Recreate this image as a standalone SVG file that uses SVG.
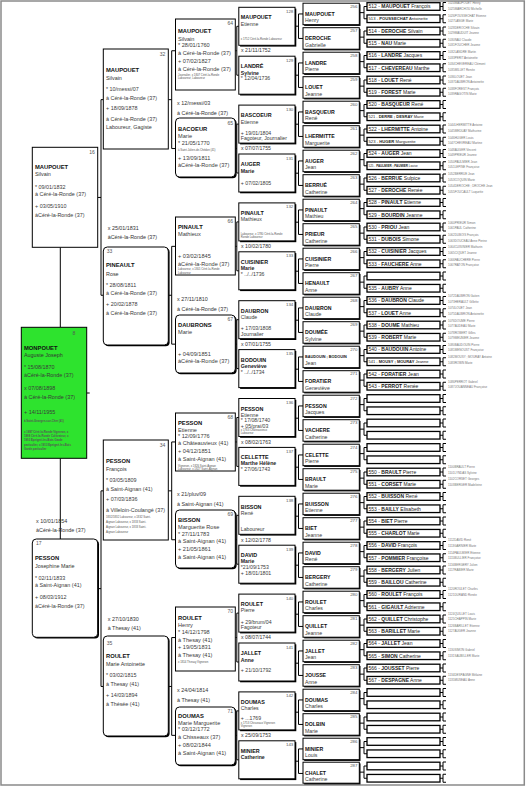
<svg xmlns="http://www.w3.org/2000/svg" width="526" height="786" viewBox="0 0 526 786">
<style>
text{font-family:"Liberation Sans",Arial,Helvetica,sans-serif;fill:#2a2a2a}
.bx{fill:#fff;stroke:#000;stroke-width:1}
.sh{fill:#000}
.gr{fill:#2ee32e;stroke:#000;stroke-width:1}
.c7{fill:#fff;stroke:#000;stroke-width:1.3}
.b{font-weight:bold}
.num{font-size:5px;fill:#555}
.sn{font-size:5.8px;font-weight:bold;fill:#111}
.gn{font-size:5.4px;fill:#333}
.d{font-size:5.4px;fill:#3a3a3a}
.d4{font-size:5.6px;fill:#3a3a3a}
.tn{font-size:2.8px;fill:#555}
.s5{font-size:5.4px;font-weight:bold;fill:#111}
.g5{font-size:5.2px;fill:#3a3a3a}
.g5b{font-size:5.2px;font-weight:bold;fill:#222}
.s6{font-size:5.2px;font-weight:bold;fill:#111}
.g6{font-size:5.2px;fill:#3a3a3a}
.n6{font-size:4.4px;fill:#555}
.t7{font-size:5px;fill:#222}
.t8{font-size:3px;fill:#777}
.m{font-size:5.4px;fill:#333}
.m5{font-size:5.2px;fill:#333}
.cn{fill:none;stroke:#000;stroke-width:1}
</style>
<defs>
<path id="k2" d="M168.3 48.9H171.7M171.7 0V97.8M171.7 0H175.5M171.7 97.8H175.5"/>
<path id="k4" d="M235.3 24.45H236.8M236.8 0V48.9M236.8 0H238.8M236.8 48.9H238.8"/>
<path id="k5" d="M295 12.25H298.5M298.5 0V24.5M298.5 0H303M298.5 24.5H303"/>
<path id="k6" d="M359.3 6.125H364M364 0V12.25M364 0H367M364 12.25H367"/>
<path id="k7" d="M440 0H443M443 -4V4M443 -4H446M443 4H446"/>
</defs>
<rect x="1" y="1" width="523.3" height="784" fill="#fff" stroke="#8a8a8a" stroke-width="1.5"/>

<g id="connectors" class="cn">
<path d="M60.3 247.3V327.3M60.3 458.3V539M86.7 393H89.7"/>
<path d="M97.7 197.45H101M101 99.65V295.25M101 99.65H103.3M101 295.25H103.3"/>
<path d="M97.7 588.65H101M101 490.85V686.45M101 490.85H103.3M101 686.45H103.3"/>
<use href="#k2" y="50.75"/><use href="#k2" y="246.35"/><use href="#k2" y="441.95"/><use href="#k2" y="637.55"/>
<use href="#k4" y="26.3"/><use href="#k4" y="124.1"/><use href="#k4" y="221.9"/><use href="#k4" y="319.7"/><use href="#k4" y="417.5"/><use href="#k4" y="515.3"/><use href="#k4" y="613.1"/><use href="#k4" y="710.9"/>
<use href="#k5" y="13.95"/><use href="#k5" y="62.95"/><use href="#k5" y="111.95"/><use href="#k5" y="160.95"/><use href="#k5" y="209.95"/><use href="#k5" y="258.95"/><use href="#k5" y="307.95"/><use href="#k5" y="356.95"/><use href="#k5" y="405.95"/><use href="#k5" y="454.95"/><use href="#k5" y="503.95"/><use href="#k5" y="552.95"/><use href="#k5" y="601.95"/><use href="#k5" y="650.95"/><use href="#k5" y="699.95"/><use href="#k5" y="748.95"/>
<use href="#k6" y="6.5"/><use href="#k6" y="31"/><use href="#k6" y="55.5"/><use href="#k6" y="80"/><use href="#k6" y="104.5"/><use href="#k6" y="129"/><use href="#k6" y="153.5"/><use href="#k6" y="178"/><use href="#k6" y="202.5"/><use href="#k6" y="227"/><use href="#k6" y="251.5"/><use href="#k6" y="276"/><use href="#k6" y="300.5"/><use href="#k6" y="325"/><use href="#k6" y="349.5"/><use href="#k6" y="374"/><use href="#k6" y="398.5"/><use href="#k6" y="423"/><use href="#k6" y="447.5"/><use href="#k6" y="472"/><use href="#k6" y="496.5"/><use href="#k6" y="521"/><use href="#k6" y="545.5"/><use href="#k6" y="570"/><use href="#k6" y="594.5"/><use href="#k6" y="619"/><use href="#k6" y="643.5"/><use href="#k6" y="668"/><use href="#k6" y="692.5"/><use href="#k6" y="717"/><use href="#k6" y="741.5"/><use href="#k6" y="766"/>
<use href="#k7" y="6.5"/><use href="#k7" y="18.75"/><use href="#k7" y="31"/><use href="#k7" y="43.25"/><use href="#k7" y="55.5"/><use href="#k7" y="67.75"/><use href="#k7" y="80"/><use href="#k7" y="92.25"/><use href="#k7" y="104.5"/><use href="#k7" y="116.75"/><use href="#k7" y="129"/><use href="#k7" y="141.25"/><use href="#k7" y="153.5"/><use href="#k7" y="165.75"/><use href="#k7" y="178"/><use href="#k7" y="190.25"/><use href="#k7" y="202.5"/><use href="#k7" y="214.75"/><use href="#k7" y="227"/><use href="#k7" y="239.25"/><use href="#k7" y="251.5"/><use href="#k7" y="263.75"/><use href="#k7" y="276"/><use href="#k7" y="288.25"/><use href="#k7" y="300.5"/><use href="#k7" y="312.75"/><use href="#k7" y="325"/><use href="#k7" y="337.25"/><use href="#k7" y="349.5"/><use href="#k7" y="361.75"/><use href="#k7" y="374"/><use href="#k7" y="386.25"/><use href="#k7" y="398.5"/><use href="#k7" y="410.75"/><use href="#k7" y="423"/><use href="#k7" y="435.25"/><use href="#k7" y="447.5"/><use href="#k7" y="459.75"/><use href="#k7" y="472"/><use href="#k7" y="484.25"/><use href="#k7" y="496.5"/><use href="#k7" y="508.75"/><use href="#k7" y="521"/><use href="#k7" y="533.25"/><use href="#k7" y="545.5"/><use href="#k7" y="557.75"/><use href="#k7" y="570"/><use href="#k7" y="582.25"/><use href="#k7" y="594.5"/><use href="#k7" y="606.75"/><use href="#k7" y="619"/><use href="#k7" y="631.25"/><use href="#k7" y="643.5"/><use href="#k7" y="655.75"/><use href="#k7" y="668"/><use href="#k7" y="680.25"/><use href="#k7" y="692.5"/><use href="#k7" y="704.75"/><use href="#k7" y="717"/><use href="#k7" y="729.25"/><use href="#k7" y="741.5"/><use href="#k7" y="753.75"/><use href="#k7" y="766"/><use href="#k7" y="778.25"/>
</g>

<g id="marriages">
<text class="m" x="36" y="523">x 10/01/1854</text><text class="m" x="36" y="532">àCéré-la-Ronde (37)</text>
<text class="m" x="107.7" y="230">x 25/01/1831</text><text class="m" x="107.7" y="239.3">àCéré-la-Ronde (37)</text>
<text class="m" x="107.7" y="621">x 27/10/1830</text><text class="m" x="107.7" y="629.7">à Thesay (41)</text>
<text class="m" x="177" y="105">x 12/messi/03</text><text class="m" x="177" y="115">à Céré-la-Ronde (37)</text>
<text class="m" x="177" y="301">x 27/11/1810</text><text class="m" x="177" y="311">à Céré-la-Ronde (37)</text>
<text class="m" x="177" y="496">x 21/pluv/09</text><text class="m" x="177" y="506">à Saint-Aignan (41)</text>
<text class="m" x="177" y="692">x 24/04/1814</text><text class="m" x="177" y="702">à Thesay (41)</text>
<text class="m5" x="241" y="52">x 21/11/1752</text>
<text class="m5" x="241" y="149.9">x 07/07/1755</text>
<text class="m5" x="241" y="247.8">x 10/02/1780</text>
<text class="m5" x="241" y="345.7">x 07/01/1755</text>
<text class="m5" x="241" y="443.6">x 08/02/1763</text>
<text class="m5" x="241" y="541.5">x 12/02/1778</text>
<text class="m5" x="241" y="639.4">x 08/07/1744</text>
<text class="m5" x="241" y="737.3">x 25/09/1753</text>
</g>

<g id="p8" transform="translate(21.3,327.3)">
<rect class="gr" width="65.4" height="131"/>
<text class="num" x="54" y="7.7" text-anchor="end">8</text>
<text class="sn" x="2.7" y="22.7">MONPOUET</text>
<text class="gn" x="2.7" y="30.2">Auguste Joseph</text>
<text class="d" x="2.7" y="41.7">* 15/08/1870</text>
<text class="d" x="2.7" y="49.7">àCéré-la-Ronde (37)</text>
<text class="d" x="2.7" y="62.7">x 07/08/1898</text>
<text class="d" x="2.7" y="71.7">à Céré-la-Ronde (37)</text>
<text class="d" x="2.7" y="86.7">+ 14/11/1955</text>
<text class="tn b" x="2.7" y="94.7">à Saint-Georges-sur-Cher (41)</text>
<text class="tn b" x="2.7" y="105.4">x 1897 Céré-la-Ronde Vigneron, x</text>
<text class="tn b" x="2.7" y="109.7">1898 Céré-la-Ronde Cultivateur, x</text>
<text class="tn b" x="2.7" y="114">1903 Epeigné-les-Bois Garde</text>
<text class="tn b" x="2.7" y="118.7">particulier, x 1913 Epeigné-les-Bois</text>
<text class="tn b" x="2.7" y="123">Garde particulier</text>
</g>

<g id="p16" transform="translate(32.3,147.3)">
<rect class="bx" width="65.4" height="100"/>
<text class="num" x="62.5" y="7.2" text-anchor="end">16</text>
<text class="sn" x="2.7" y="21.7">MAUPOUET</text>
<text class="gn" x="2.7" y="29.2">Silvain</text>
<text class="d" x="2.7" y="41.7">* 09/01/1832</text>
<text class="d" x="2.7" y="48.7">à Céré-la-Ronde (37)</text>
<text class="d" x="2.7" y="60.7">+ 03/05/1910</text>
<text class="d" x="2.7" y="69.7">àCéré-la-Ronde (37)</text>
</g>

<g id="p17" transform="translate(32.3,539)">
<rect class="sh" x="1.3" y="1.3" width="65.4" height="98.3" rx="4"/>
<rect class="bx" width="65.4" height="98.3" rx="4"/>
<text class="num" x="3.7" y="6">17</text>
<text class="sn" x="2.7" y="21">PESSON</text>
<text class="gn" x="2.7" y="29">Josephine Marie</text>
<text class="d" x="2.7" y="41">* 02/11/1833</text>
<text class="d" x="2.7" y="48">à Saint-Aignan (41)</text>
<text class="d" x="2.7" y="60">+ 08/03/1912</text>
<text class="d" x="2.7" y="69">àCéré-la-Ronde (37)</text>
</g>

<g id="p32" transform="translate(103.3,49)">
<rect class="bx" width="65" height="100"/>
<text class="num" x="62" y="7" text-anchor="end">32</text>
<text class="sn" x="2.7" y="23">MAUPOUET</text>
<text class="gn" x="2.7" y="30.5">Silvain</text>
<text class="d" x="2.7" y="42">* 10/messi/07</text>
<text class="d" x="2.7" y="50.5">à Céré-la-Ronde (37)</text>
<text class="d" x="2.7" y="61">+ 18/09/1878</text>
<text class="d" x="2.7" y="71.5">à Céré-la-Ronde (37)</text>
<text class="d" x="2.7" y="80">Laboureur, Gagiste</text>
</g>

<g id="p33" transform="translate(103.3,247)">
<rect class="sh" x="1.3" y="1.3" width="65" height="98" rx="4"/>
<rect class="bx" width="65" height="98" rx="4"/>
<text class="num" x="3.5" y="6">33</text>
<text class="sn" x="2.7" y="20">PINEAULT</text>
<text class="gn" x="2.7" y="28.5">Rose</text>
<text class="d" x="2.7" y="40">* 28/08/1811</text>
<text class="d" x="2.7" y="47.5">à Céré-la-Ronde (37)</text>
<text class="d" x="2.7" y="58.5">+ 20/02/1878</text>
<text class="d" x="2.7" y="68">à Céré-la-Ronde (37)</text>
</g>

<g id="p34" transform="translate(103.3,440)">
<rect class="bx" width="65" height="100"/>
<text class="num" x="62" y="7" text-anchor="end">34</text>
<text class="sn" x="2.7" y="23">PESSON</text>
<text class="gn" x="2.7" y="30.5">François</text>
<text class="d" x="2.7" y="42">* 03/05/1809</text>
<text class="d" x="2.7" y="50.5">à Saint-Aignan (41)</text>
<text class="d" x="2.7" y="61">+ 07/03/1836</text>
<text class="d" x="2.7" y="71.5">à Villeloin-Coulangé (37)</text>
<text class="tn" x="2.7" y="78">1832/1832 Laboureur, x 1832 Saint-</text>
<text class="tn" x="2.7" y="83">Aignan Laboureur, x 1833 Saint-</text>
<text class="tn" x="2.7" y="87.5">Aignan Laboureur, x 1833 Saint-</text>
<text class="tn" x="2.7" y="92.5">Aignan Laboureur</text>
</g>

<g id="p35" transform="translate(103.3,636)">
<rect class="sh" x="1.3" y="1.3" width="65" height="100" rx="4"/>
<rect class="bx" width="65" height="100" rx="4"/>
<text class="num" x="3.5" y="8.5">35</text>
<text class="sn" x="2.7" y="22">ROULET</text>
<text class="gn" x="2.7" y="30">Marie Antoinette</text>
<text class="d" x="2.7" y="41">* 03/02/1815</text>
<text class="d" x="2.7" y="49.5">à Thesay (41)</text>
<text class="d" x="2.7" y="61">+ 14/03/1894</text>
<text class="d" x="2.7" y="70">à Thésée (41)</text>
</g>

<g id="p64" transform="translate(175.5,19)">
<rect class="bx" width="59.8" height="71"/>
<text class="num" x="57.5" y="6" text-anchor="end">64</text>
<text class="sn" x="2.5" y="14">MAUPOUET</text>
<text class="d4" x="2.5" y="21.5">Silvain</text>
<text class="d4" x="2.5" y="27.5">* 28/01/1760</text>
<text class="d4" x="2.5" y="36">à Céré-la-Ronde (37)</text>
<text class="d4" x="2.5" y="44">+ 07/02/1827</text>
<text class="d4" x="2.5" y="51.5">à Céré-la-Ronde (37)</text>
<text class="tn" x="2.5" y="56.7">Journalier, x 1807 Céré-la-Ronde</text>
<text class="tn" x="2.5" y="60.3">Laboureur, Laboureur</text>
</g>

<g id="p65" transform="translate(175.5,118)">
<rect class="sh" x="1.3" y="1.3" width="59.8" height="59" rx="4"/>
<rect class="bx" width="59.8" height="59" rx="4"/>
<text class="num" x="57.5" y="7" text-anchor="end">65</text>
<text class="sn" x="2.5" y="13">BACOEUR</text>
<text class="d4" x="2.5" y="20">Marie</text>
<text class="d4" x="2.5" y="27">* 21/05/1770</text>
<text class="tn" x="2.5" y="33">à Saint-Julien-de-Chédon (41)</text>
<text class="d4" x="2.5" y="42">+ 13/09/1811</text>
<text class="d4" x="2.5" y="49">àCéré-la-Ronde (37)</text>
</g>

<g id="p66" transform="translate(175.5,217)">
<rect class="bx" width="59.8" height="58"/>
<text class="num" x="57.5" y="5.5" text-anchor="end">66</text>
<text class="sn" x="2.5" y="12">PINAULT</text>
<text class="d4" x="2.5" y="19">Mathieux</text>
<text class="d4" x="2.5" y="41">+ 03/02/1845</text>
<text class="d4" x="2.5" y="48.5">àCéré-la-Ronde (37)</text>
<text class="tn" x="2.5" y="53.2">Laboureur, x 1801 Céré-la-Ronde</text>
<text class="tn" x="2.5" y="56.8">Laboureur</text>
</g>

<g id="p67" transform="translate(175.5,315)">
<rect class="sh" x="1.3" y="1.3" width="59.8" height="58" rx="4"/>
<rect class="bx" width="59.8" height="58" rx="4"/>
<text class="num" x="57.5" y="5.5" text-anchor="end">67</text>
<text class="sn" x="2.5" y="12">DAUBRONS</text>
<text class="d4" x="2.5" y="19">Marie</text>
<text class="d4" x="2.5" y="41">+ 04/09/1851</text>
<text class="d4" x="2.5" y="48">àCéré-la-Ronde (37)</text>
</g>

<g id="p68" transform="translate(175.5,413)">
<rect class="bx" width="59.8" height="58"/>
<text class="num" x="57.5" y="5.5" text-anchor="end">68</text>
<text class="sn" x="2.5" y="11.5">PESSON</text>
<text class="d4" x="2.5" y="18.5">Etienne</text>
<text class="d4" x="2.5" y="24.5">* 12/09/1776</text>
<text class="d4" x="2.5" y="32">à Châteauvieux (41)</text>
<text class="d4" x="2.5" y="40">+ 04/12/1851</text>
<text class="d4" x="2.5" y="48">à Saint-Aignan (41)</text>
<text class="tn" x="2.5" y="53.5">Vigneron, x 1826 Saint-Aignan</text>
<text class="tn" x="2.5" y="57">Laboureur, x 1827 Saint-Aignan</text>
</g>

<g id="p69" transform="translate(175.5,510)">
<rect class="sh" x="1.3" y="1.3" width="59.8" height="58" rx="4"/>
<rect class="bx" width="59.8" height="58" rx="4"/>
<text class="num" x="57.5" y="5.5" text-anchor="end">69</text>
<text class="sn" x="2.5" y="11.5">BISSON</text>
<text class="d4" x="2.5" y="19">Marguerite Rose</text>
<text class="d4" x="2.5" y="25.5">* 27/11/1783</text>
<text class="d4" x="2.5" y="33">à Saint-Aignan (41)</text>
<text class="d4" x="2.5" y="40.5">+ 21/05/1861</text>
<text class="d4" x="2.5" y="49">à Saint-Aignan (41)</text>
</g>

<g id="p70" transform="translate(175.5,607)">
<rect class="bx" width="59.8" height="64"/>
<text class="num" x="57.5" y="5.5" text-anchor="end">70</text>
<text class="sn" x="2.5" y="13">ROULET</text>
<text class="d4" x="2.5" y="20">Henry</text>
<text class="d4" x="2.5" y="27">* 14/12/1798</text>
<text class="d4" x="2.5" y="34.5">à Thesay (41)</text>
<text class="d4" x="2.5" y="42">+ 19/05/1831</text>
<text class="d4" x="2.5" y="49.5">à Thesay (41)</text>
<text class="tn" x="2.5" y="55.5">x 1814 Thesay Vigneron</text>
</g>

<g id="p71" transform="translate(175.5,707)">
<rect class="sh" x="1.3" y="1.3" width="59.8" height="58" rx="4"/>
<rect class="bx" width="59.8" height="58" rx="4"/>
<text class="num" x="57.5" y="5.5" text-anchor="end">71</text>
<text class="sn" x="2.5" y="11">DOUMAS</text>
<text class="d4" x="2.5" y="18">Marie Marguerite</text>
<text class="d4" x="2.5" y="24">* 03/12/1772</text>
<text class="d4" x="2.5" y="32">à Chisseaux (37)</text>
<text class="d4" x="2.5" y="39.5">+ 08/02/1844</text>
<text class="d4" x="2.5" y="47.5">à Saint-Aignan (41)</text>
</g>

<g id="p128" transform="translate(238.8,7.3)"><rect class="sh" x="1.3" y="1.3" width="56.2" height="38"/><rect class="bx" width="56.2" height="38"/><text class="n6" x="54.5" y="5.5" text-anchor="end">128</text><text class="s5" x="2" y="12">MAUPOUET</text><text class="g5" x="2" y="18.5">Etienne</text><text class="tn" x="2" y="33">x 1752 Céré-la-Ronde Laboureur</text></g>
<g id="p129" transform="translate(238.8,56.2)"><rect class="sh" x="1.3" y="1.3" width="56.2" height="38"/><rect class="bx" width="56.2" height="38"/><text class="n6" x="54.5" y="5.5" text-anchor="end">129</text><text class="s5" x="2" y="12">LANDRÉ</text><text class="g5b" x="2" y="18.5">Sylvine</text><text class="g5" x="2" y="23.5">* 12/04/1736</text></g>
<g id="p130" transform="translate(238.8,105.1)"><rect class="sh" x="1.3" y="1.3" width="56.2" height="38"/><rect class="bx" width="56.2" height="38"/><text class="n6" x="54.5" y="5.5" text-anchor="end">130</text><text class="s5" x="2" y="12">BASCOEUR</text><text class="g5" x="2" y="18.5">Etienne</text><text class="g5" x="2" y="30">+ 19/01/1804</text><text class="g5" x="2" y="35">Fagoteur, Journalier</text></g>
<g id="p131" transform="translate(238.8,154)"><rect class="sh" x="1.3" y="1.3" width="56.2" height="38"/><rect class="bx" width="56.2" height="38"/><text class="n6" x="54.5" y="5.5" text-anchor="end">131</text><text class="s5" x="2" y="12">AUGER</text><text class="g5b" x="2" y="18.5">Marie</text><text class="g5" x="2" y="30.5">+ 07/02/1805</text></g>
<g id="p132" transform="translate(238.8,202.9)"><rect class="sh" x="1.3" y="1.3" width="56.2" height="38"/><rect class="bx" width="56.2" height="38"/><text class="n6" x="54.5" y="5.5" text-anchor="end">132</text><text class="s5" x="2" y="12">PINAULT</text><text class="g5" x="2" y="18.5">Mathieux</text><text class="tn" x="2" y="32">Laboureur, x 1780 Céré-la-Ronde</text><text class="tn" x="2" y="35.5">Ronde Laboureur</text></g>
<g id="p133" transform="translate(238.8,251.8)"><rect class="sh" x="1.3" y="1.3" width="56.2" height="38"/><rect class="bx" width="56.2" height="38"/><text class="n6" x="54.5" y="5.5" text-anchor="end">133</text><text class="s5" x="2" y="12">CUISINIER</text><text class="g5b" x="2" y="18">Marie</text><text class="g5" x="2" y="24">* ../../1736</text></g>
<g id="p134" transform="translate(238.8,300.7)"><rect class="sh" x="1.3" y="1.3" width="56.2" height="38"/><rect class="bx" width="56.2" height="38"/><text class="n6" x="54.5" y="5.5" text-anchor="end">134</text><text class="s5" x="2" y="12">DAUBRON</text><text class="g5" x="2" y="18.5">Claude</text><text class="g5" x="2" y="29.5">+ 17/03/1808</text><text class="g5" x="2" y="35.3">Journalier</text></g>
<g id="p135" transform="translate(238.8,349.6)"><rect class="sh" x="1.3" y="1.3" width="56.2" height="38"/><rect class="bx" width="56.2" height="38"/><text class="n6" x="54.5" y="5.5" text-anchor="end">135</text><text class="s5" x="2" y="12">BODOUIN</text><text class="g5b" x="2" y="18">Geneviève</text><text class="g5" x="2" y="24">* ../../1734</text></g>
<g id="p136" transform="translate(238.8,398.5)"><rect class="sh" x="1.3" y="1.3" width="56.2" height="38"/><rect class="bx" width="56.2" height="38"/><text class="n6" x="54.5" y="5.5" text-anchor="end">136</text><text class="s5" x="2" y="12">PESSON</text><text class="g5" x="2" y="18">Etienne</text><text class="g5" x="2" y="23.5">* 17/08/1740</text><text class="g5" x="2" y="29.5">+ 05/prai/03</text><text class="tn" x="2" y="32.8">x 1763 Châteauvieux</text><text class="tn" x="2" y="35.8">Laboureur</text></g>
<g id="p137" transform="translate(238.8,447.4)"><rect class="sh" x="1.3" y="1.3" width="56.2" height="38"/><rect class="bx" width="56.2" height="38"/><text class="n6" x="54.5" y="5.5" text-anchor="end">137</text><text class="s5" x="2" y="12">CELLETTE</text><text class="g5b" x="2" y="18">Marthe Hélène</text><text class="g5" x="2" y="23.6">* 27/06/1743</text></g>
<g id="p138" transform="translate(238.8,496.3)"><rect class="sh" x="1.3" y="1.3" width="56.2" height="38"/><rect class="bx" width="56.2" height="38"/><text class="n6" x="54.5" y="5.5" text-anchor="end">138</text><text class="s5" x="2" y="12.5">BISSON</text><text class="g5" x="2" y="19">René</text><text class="g5" x="2" y="34.7">Laboureur</text></g>
<g id="p139" transform="translate(238.8,545.2)"><rect class="sh" x="1.3" y="1.3" width="56.2" height="38"/><rect class="bx" width="56.2" height="38"/><text class="n6" x="54.5" y="5.5" text-anchor="end">139</text><text class="s5" x="2" y="12">DAVID</text><text class="g5b" x="2" y="18">Marie</text><text class="g5" x="2" y="24.3">*21/09/1753</text><text class="g5" x="2" y="30.3">+ 18/01/1801</text></g>
<g id="p140" transform="translate(238.8,594.1)"><rect class="sh" x="1.3" y="1.3" width="56.2" height="38"/><rect class="bx" width="56.2" height="38"/><text class="n6" x="54.5" y="5.5" text-anchor="end">140</text><text class="s5" x="2" y="12">ROULET</text><text class="g5" x="2" y="18">Pierre</text><text class="g5" x="2" y="30.4">+ 29/brum/04</text><text class="g5" x="2" y="35.4">Fagoteur</text></g>
<g id="p141" transform="translate(238.8,643)"><rect class="sh" x="1.3" y="1.3" width="56.2" height="38"/><rect class="bx" width="56.2" height="38"/><text class="n6" x="54.5" y="5.5" text-anchor="end">141</text><text class="s5" x="2" y="12">JALLET</text><text class="g5b" x="2" y="18.5">Anne</text><text class="g5" x="2" y="29">+ 21/10/1792</text></g>
<g id="p142" transform="translate(238.8,691.9)"><rect class="sh" x="1.3" y="1.3" width="56.2" height="38"/><rect class="bx" width="56.2" height="38"/><text class="n6" x="54.5" y="5.5" text-anchor="end">142</text><text class="s5" x="2" y="12">DOUMAS</text><text class="g5" x="2" y="18">Charles</text><text class="g5" x="2" y="28.5">+ ...1769</text><text class="tn" x="2" y="31.8">x 1753 Chisseaux Vigneron</text><text class="tn" x="2" y="34.8">Vigneron</text></g>
<g id="p143" transform="translate(238.8,740.8)"><rect class="sh" x="1.3" y="1.3" width="56.2" height="38"/><rect class="bx" width="56.2" height="38"/><text class="n6" x="54.5" y="5.5" text-anchor="end">143</text><text class="s5" x="2" y="12">MINIER</text><text class="g5b" x="2" y="18.5">Catherine</text></g>

<g id="p256" transform="translate(303,3.2)"><rect class="sh" x="1.2" y="1.2" width="56.3" height="21.5"/><rect class="bx" width="56.3" height="21.5"/><text class="n6" x="54.5" y="4.8" text-anchor="end">256</text><text class="s6" x="2" y="12.5">MAUPOUET</text><text class="g6" x="2" y="19.2">Henry</text></g>
<g id="p257" transform="translate(303,27.7)"><rect class="sh" x="1.2" y="1.2" width="56.3" height="21.5"/><rect class="bx" width="56.3" height="21.5"/><text class="n6" x="54.5" y="4.8" text-anchor="end">257</text><text class="s6" x="2" y="12.5">DEROCHE</text><text class="g6" x="2" y="19.2">Gabrielle</text></g>
<g id="p258" transform="translate(303,52.2)"><rect class="sh" x="1.2" y="1.2" width="56.3" height="21.5"/><rect class="bx" width="56.3" height="21.5"/><text class="n6" x="54.5" y="4.8" text-anchor="end">258</text><text class="s6" x="2" y="12.5">LANDRE</text><text class="g6" x="2" y="19.2">Pierre</text></g>
<g id="p259" transform="translate(303,76.7)"><rect class="sh" x="1.2" y="1.2" width="56.3" height="21.5"/><rect class="bx" width="56.3" height="21.5"/><text class="n6" x="54.5" y="4.8" text-anchor="end">259</text><text class="s6" x="2" y="12.5">LOUET</text><text class="g6" x="2" y="19.2">Jeanne</text></g>
<g id="p260" transform="translate(303,101.2)"><rect class="sh" x="1.2" y="1.2" width="56.3" height="21.5"/><rect class="bx" width="56.3" height="21.5"/><text class="n6" x="54.5" y="4.8" text-anchor="end">260</text><text class="s6" x="2" y="12.5">BASQUEUR</text><text class="g6" x="2" y="19.2">René</text></g>
<g id="p261" transform="translate(303,125.7)"><rect class="sh" x="1.2" y="1.2" width="56.3" height="21.5"/><rect class="bx" width="56.3" height="21.5"/><text class="n6" x="54.5" y="4.8" text-anchor="end">261</text><text class="s6" x="2" y="12.5">LHERMITTE</text><text class="g6" x="2" y="19.2">Marguerite</text></g>
<g id="p262" transform="translate(303,150.2)"><rect class="sh" x="1.2" y="1.2" width="56.3" height="21.5"/><rect class="bx" width="56.3" height="21.5"/><text class="n6" x="54.5" y="4.8" text-anchor="end">262</text><text class="s6" x="2" y="12.5">AUGER</text><text class="g6" x="2" y="19.2">Jean</text></g>
<g id="p263" transform="translate(303,174.7)"><rect class="sh" x="1.2" y="1.2" width="56.3" height="21.5"/><rect class="bx" width="56.3" height="21.5"/><text class="n6" x="54.5" y="4.8" text-anchor="end">263</text><text class="s6" x="2" y="12.5">BERRUÉ</text><text class="g6" x="2" y="19.2">Catherine</text></g>
<g id="p264" transform="translate(303,199.2)"><rect class="sh" x="1.2" y="1.2" width="56.3" height="21.5"/><rect class="bx" width="56.3" height="21.5"/><text class="n6" x="54.5" y="4.8" text-anchor="end">264</text><text class="s6" x="2" y="12.5">PINAULT</text><text class="g6" x="2" y="19.2">Mathieu</text></g>
<g id="p265" transform="translate(303,223.7)"><rect class="sh" x="1.2" y="1.2" width="56.3" height="21.5"/><rect class="bx" width="56.3" height="21.5"/><text class="n6" x="54.5" y="4.8" text-anchor="end">265</text><text class="s6" x="2" y="12.5">PRIEUR</text><text class="g6" x="2" y="19.2">Catherine</text></g>
<g id="p266" transform="translate(303,248.2)"><rect class="sh" x="1.2" y="1.2" width="56.3" height="21.5"/><rect class="bx" width="56.3" height="21.5"/><text class="n6" x="54.5" y="4.8" text-anchor="end">266</text><text class="s6" x="2" y="12.5">CUISINIER</text><text class="g6" x="2" y="19.2">Pierre</text></g>
<g id="p267" transform="translate(303,272.7)"><rect class="sh" x="1.2" y="1.2" width="56.3" height="21.5"/><rect class="bx" width="56.3" height="21.5"/><text class="n6" x="54.5" y="4.8" text-anchor="end">267</text><text class="s6" x="2" y="12.5">HENAULT</text><text class="g6" x="2" y="19.2">Anne</text></g>
<g id="p268" transform="translate(303,297.2)"><rect class="sh" x="1.2" y="1.2" width="56.3" height="21.5"/><rect class="bx" width="56.3" height="21.5"/><text class="n6" x="54.5" y="4.8" text-anchor="end">268</text><text class="s6" x="2" y="12.5">DAUBRON</text><text class="g6" x="2" y="19.2">Claude</text></g>
<g id="p269" transform="translate(303,321.7)"><rect class="sh" x="1.2" y="1.2" width="56.3" height="21.5"/><rect class="bx" width="56.3" height="21.5"/><text class="n6" x="54.5" y="4.8" text-anchor="end">269</text><text class="s6" x="2" y="12.5">DOUMÉE</text><text class="g6" x="2" y="19.2">Sylvine</text></g>
<g id="p270" transform="translate(303,346.2)"><rect class="sh" x="1.2" y="1.2" width="56.3" height="21.5"/><rect class="bx" width="56.3" height="21.5"/><text class="n6" x="54.5" y="4.8" text-anchor="end">270</text><text class="s6" x="2" y="12" style="font-size:3.8px">BAUDOUIN ; BODOUIN</text><text class="g6" x="2" y="19.2">Jean</text></g>
<g id="p271" transform="translate(303,370.7)"><rect class="sh" x="1.2" y="1.2" width="56.3" height="21.5"/><rect class="bx" width="56.3" height="21.5"/><text class="n6" x="54.5" y="4.8" text-anchor="end">271</text><text class="s6" x="2" y="12.5">FORATIER</text><text class="g6" x="2" y="19.2">Geneviève</text></g>
<g id="p272" transform="translate(303,395.2)"><rect class="sh" x="1.2" y="1.2" width="56.3" height="21.5"/><rect class="bx" width="56.3" height="21.5"/><text class="n6" x="54.5" y="4.8" text-anchor="end">272</text><text class="s6" x="2" y="12.5">PESSON</text><text class="g6" x="2" y="19.2">Jacques</text></g>
<g id="p273" transform="translate(303,419.7)"><rect class="sh" x="1.2" y="1.2" width="56.3" height="21.5"/><rect class="bx" width="56.3" height="21.5"/><text class="n6" x="54.5" y="4.8" text-anchor="end">273</text><text class="s6" x="2" y="12.5">VACHERE</text><text class="g6" x="2" y="19.2">Catherine</text></g>
<g id="p274" transform="translate(303,444.2)"><rect class="sh" x="1.2" y="1.2" width="56.3" height="21.5"/><rect class="bx" width="56.3" height="21.5"/><text class="n6" x="54.5" y="4.8" text-anchor="end">274</text><text class="s6" x="2" y="12.5">CELETTE</text><text class="g6" x="2" y="19.2">Pierre</text></g>
<g id="p275" transform="translate(303,468.7)"><rect class="sh" x="1.2" y="1.2" width="56.3" height="21.5"/><rect class="bx" width="56.3" height="21.5"/><text class="n6" x="54.5" y="4.8" text-anchor="end">275</text><text class="s6" x="2" y="12.5">BRAULT</text><text class="g6" x="2" y="19.2">Marie</text></g>
<g id="p276" transform="translate(303,493.2)"><rect class="sh" x="1.2" y="1.2" width="56.3" height="21.5"/><rect class="bx" width="56.3" height="21.5"/><text class="n6" x="54.5" y="4.8" text-anchor="end">276</text><text class="s6" x="2" y="12.5">BUISSON</text><text class="g6" x="2" y="19.2">Etienne</text></g>
<g id="p277" transform="translate(303,517.7)"><rect class="sh" x="1.2" y="1.2" width="56.3" height="21.5"/><rect class="bx" width="56.3" height="21.5"/><text class="n6" x="54.5" y="4.8" text-anchor="end">277</text><text class="s6" x="2" y="12.5">BIET</text><text class="g6" x="2" y="19.2">Jeanne</text></g>
<g id="p278" transform="translate(303,542.2)"><rect class="sh" x="1.2" y="1.2" width="56.3" height="21.5"/><rect class="bx" width="56.3" height="21.5"/><text class="n6" x="54.5" y="4.8" text-anchor="end">278</text><text class="s6" x="2" y="12.5">DAVID</text><text class="g6" x="2" y="19.2">René</text></g>
<g id="p279" transform="translate(303,566.7)"><rect class="sh" x="1.2" y="1.2" width="56.3" height="21.5"/><rect class="bx" width="56.3" height="21.5"/><text class="n6" x="54.5" y="4.8" text-anchor="end">279</text><text class="s6" x="2" y="12.5">BERGERY</text><text class="g6" x="2" y="19.2">Catherine</text></g>
<g id="p280" transform="translate(303,591.2)"><rect class="sh" x="1.2" y="1.2" width="56.3" height="21.5"/><rect class="bx" width="56.3" height="21.5"/><text class="n6" x="54.5" y="4.8" text-anchor="end">280</text><text class="s6" x="2" y="12.5">ROULET</text><text class="g6" x="2" y="19.2">Charles</text></g>
<g id="p281" transform="translate(303,615.7)"><rect class="sh" x="1.2" y="1.2" width="56.3" height="21.5"/><rect class="bx" width="56.3" height="21.5"/><text class="n6" x="54.5" y="4.8" text-anchor="end">281</text><text class="s6" x="2" y="12.5">QUILLET</text><text class="g6" x="2" y="19.2">Jeanne</text></g>
<g id="p282" transform="translate(303,640.2)"><rect class="sh" x="1.2" y="1.2" width="56.3" height="21.5"/><rect class="bx" width="56.3" height="21.5"/><text class="n6" x="54.5" y="4.8" text-anchor="end">282</text><text class="s6" x="2" y="12.5">JALLET</text><text class="g6" x="2" y="19.2">Jean</text></g>
<g id="p283" transform="translate(303,664.7)"><rect class="sh" x="1.2" y="1.2" width="56.3" height="21.5"/><rect class="bx" width="56.3" height="21.5"/><text class="n6" x="54.5" y="4.8" text-anchor="end">283</text><text class="s6" x="2" y="12.5">JOUSSE</text><text class="g6" x="2" y="19.2">Anne</text></g>
<g id="p284" transform="translate(303,689.2)"><rect class="sh" x="1.2" y="1.2" width="56.3" height="21.5"/><rect class="bx" width="56.3" height="21.5"/><text class="n6" x="54.5" y="4.8" text-anchor="end">284</text><text class="s6" x="2" y="12.5">DOUMAS</text><text class="g6" x="2" y="19.2">Charles</text></g>
<g id="p285" transform="translate(303,713.7)"><rect class="sh" x="1.2" y="1.2" width="56.3" height="21.5"/><rect class="bx" width="56.3" height="21.5"/><text class="n6" x="54.5" y="4.8" text-anchor="end">285</text><text class="s6" x="2" y="12.5">DOLBIN</text><text class="g6" x="2" y="19.2">Marie</text></g>
<g id="p286" transform="translate(303,738.2)"><rect class="sh" x="1.2" y="1.2" width="56.3" height="21.5"/><rect class="bx" width="56.3" height="21.5"/><text class="n6" x="54.5" y="4.8" text-anchor="end">286</text><text class="s6" x="2" y="12.5">MINIER</text><text class="g6" x="2" y="19.2">Louis</text></g>
<g id="p287" transform="translate(303,762.2)"><rect class="sh" x="1.2" y="1.2" width="56.3" height="21"/><rect class="bx" width="56.3" height="21"/><text class="n6" x="54.5" y="4.8" text-anchor="end">287</text><text class="s6" x="2" y="12.5">CHALET</text><text class="g6" x="2" y="19">Catherine</text></g>

<g id="p512" transform="translate(367,2.7)"><rect class="c7" width="73" height="7.6"/><text class="t7" x="1.5" y="5.6">512 - <tspan class="b">MAUPOUET</tspan> François</text></g>
<g id="p513" transform="translate(367,14.95)"><rect class="c7" width="73" height="7.6"/><text class="t7" x="1.5" y="5.4" style="font-size:4.2px">513 - <tspan class="b">POUSSECHAT</tspan> Antoinette</text></g>
<g id="p514" transform="translate(367,27.2)"><rect class="c7" width="73" height="7.6"/><text class="t7" x="1.5" y="5.6">514 - <tspan class="b">DEROCHE</tspan> Silvain</text></g>
<g id="p515" transform="translate(367,39.45)"><rect class="c7" width="73" height="7.6"/><text class="t7" x="1.5" y="5.6">515 - <tspan class="b">NAU</tspan> Marie</text></g>
<g id="p516" transform="translate(367,51.7)"><rect class="c7" width="73" height="7.6"/><text class="t7" x="1.5" y="5.6">516 - <tspan class="b">LANDRE</tspan> Jacques</text></g>
<g id="p517" transform="translate(367,63.95)"><rect class="c7" width="73" height="7.6"/><text class="t7" x="1.5" y="5.6">517 - <tspan class="b">CHEVEREAU</tspan> Marthe</text></g>
<g id="p518" transform="translate(367,76.2)"><rect class="c7" width="73" height="7.6"/><text class="t7" x="1.5" y="5.6">518 - <tspan class="b">LOUET</tspan> René</text></g>
<g id="p519" transform="translate(367,88.45)"><rect class="c7" width="73" height="7.6"/><text class="t7" x="1.5" y="5.6">519 - <tspan class="b">FOREST</tspan> Marie</text></g>
<g id="p520" transform="translate(367,100.7)"><rect class="c7" width="73" height="7.6"/><text class="t7" x="1.5" y="5.6">520 - <tspan class="b">BASQUEUR</tspan> René</text></g>
<g id="p521" transform="translate(367,112.95)"><rect class="c7" width="73" height="7.6"/><text class="t7" x="1.5" y="5.3" style="font-size:4px">521 - <tspan class="b">DERRE ; DESRAY</tspan> Marie</text></g>
<g id="p522" transform="translate(367,125.2)"><rect class="c7" width="73" height="7.6"/><text class="t7" x="1.5" y="5.6">522 - <tspan class="b">LHERMITTE</tspan> Antoine</text></g>
<g id="p523" transform="translate(367,137.45)"><rect class="c7" width="73" height="7.6"/><text class="t7" x="1.5" y="5.4" style="font-size:4.2px">523 - <tspan class="b">HUGER</tspan> Marguerite</text></g>
<g id="p524" transform="translate(367,149.7)"><rect class="c7" width="73" height="7.6"/><text class="t7" x="1.5" y="5.6">524 - <tspan class="b">AUGER</tspan> Jean</text></g>
<g id="p525" transform="translate(367,161.95)"><rect class="c7" width="73" height="7.6"/><text class="t7" x="1.5" y="4.9" style="font-size:3px">525 - <tspan class="b">PAULMIER ; PAUMIER</tspan> Louise</text></g>
<g id="p526" transform="translate(367,174.2)"><rect class="c7" width="73" height="7.6"/><text class="t7" x="1.5" y="5.6">526 - <tspan class="b">BERRUE</tspan> Sulpice</text></g>
<g id="p527" transform="translate(367,186.45)"><rect class="c7" width="73" height="7.6"/><text class="t7" x="1.5" y="5.6">527 - <tspan class="b">DEROCHE</tspan> Renée</text></g>
<g id="p528" transform="translate(367,198.7)"><rect class="c7" width="73" height="7.6"/><text class="t7" x="1.5" y="5.6">528 - <tspan class="b">PINAULT</tspan> Etienne</text></g>
<g id="p529" transform="translate(367,210.95)"><rect class="c7" width="73" height="7.6"/><text class="t7" x="1.5" y="5.6">529 - <tspan class="b">BOURDIN</tspan> Jeanne</text></g>
<g id="p530" transform="translate(367,223.2)"><rect class="c7" width="73" height="7.6"/><text class="t7" x="1.5" y="5.6">530 - <tspan class="b">PRIOU</tspan> Jean</text></g>
<g id="p531" transform="translate(367,235.45)"><rect class="c7" width="73" height="7.6"/><text class="t7" x="1.5" y="5.6">531 - <tspan class="b">DUBOIS</tspan> Simone</text></g>
<g id="p532" transform="translate(367,247.7)"><rect class="c7" width="73" height="7.6"/><text class="t7" x="1.5" y="5.6">532 - <tspan class="b">CUISINIER</tspan> Jacques</text></g>
<g id="p533" transform="translate(367,259.95)"><rect class="c7" width="73" height="7.6"/><text class="t7" x="1.5" y="5.6">533 - <tspan class="b">FAUCHERE</tspan> Anne</text></g>
<g id="p534" transform="translate(367,272.2)"><rect class="c7" width="73" height="7.6"/></g>
<g id="p535" transform="translate(367,284.45)"><rect class="c7" width="73" height="7.6"/><text class="t7" x="1.5" y="5.6">535 - <tspan class="b">AUBRY</tspan> Anne</text></g>
<g id="p536" transform="translate(367,296.7)"><rect class="c7" width="73" height="7.6"/><text class="t7" x="1.5" y="5.6">536 - <tspan class="b">DAUBRON</tspan> Claude</text></g>
<g id="p537" transform="translate(367,308.95)"><rect class="c7" width="73" height="7.6"/><text class="t7" x="1.5" y="5.6">537 - <tspan class="b">LOUET</tspan> Anne</text></g>
<g id="p538" transform="translate(367,321.2)"><rect class="c7" width="73" height="7.6"/><text class="t7" x="1.5" y="5.6">538 - <tspan class="b">DOUME</tspan> Mathieu</text></g>
<g id="p539" transform="translate(367,333.45)"><rect class="c7" width="73" height="7.6"/><text class="t7" x="1.5" y="5.6">539 - <tspan class="b">ROBERT</tspan> Marie</text></g>
<g id="p540" transform="translate(367,345.7)"><rect class="c7" width="73" height="7.6"/><text class="t7" x="1.5" y="5.6">540 - <tspan class="b">BAUDOUIN</tspan> Antoine</text></g>
<g id="p541" transform="translate(367,357.95)"><rect class="c7" width="73" height="7.6"/><text class="t7" x="1.5" y="5.3" style="font-size:4px">541 - <tspan class="b">MOUSY ; MOURAY</tspan> Jeanne</text></g>
<g id="p542" transform="translate(367,370.2)"><rect class="c7" width="73" height="7.6"/><text class="t7" x="1.5" y="5.6">542 - <tspan class="b">FORATIER</tspan> Jean</text></g>
<g id="p543" transform="translate(367,382.45)"><rect class="c7" width="73" height="7.6"/><text class="t7" x="1.5" y="5.6">543 - <tspan class="b">PERROT</tspan> Renée</text></g>
<g id="p544" transform="translate(367,394.7)"><rect class="c7" width="73" height="7.6"/></g>
<g id="p545" transform="translate(367,406.95)"><rect class="c7" width="73" height="7.6"/></g>
<g id="p546" transform="translate(367,419.2)"><rect class="c7" width="73" height="7.6"/></g>
<g id="p547" transform="translate(367,431.45)"><rect class="c7" width="73" height="7.6"/></g>
<g id="p548" transform="translate(367,443.7)"><rect class="c7" width="73" height="7.6"/></g>
<g id="p549" transform="translate(367,455.95)"><rect class="c7" width="73" height="7.6"/></g>
<g id="p550" transform="translate(367,468.2)"><rect class="c7" width="73" height="7.6"/><text class="t7" x="1.5" y="5.6">550 - <tspan class="b">BRAULT</tspan> Pierre</text></g>
<g id="p551" transform="translate(367,480.45)"><rect class="c7" width="73" height="7.6"/><text class="t7" x="1.5" y="5.6">551 - <tspan class="b">CORSET</tspan> Marie</text></g>
<g id="p552" transform="translate(367,492.7)"><rect class="c7" width="73" height="7.6"/><text class="t7" x="1.5" y="5.6">552 - <tspan class="b">BUISSON</tspan> René</text></g>
<g id="p553" transform="translate(367,504.95)"><rect class="c7" width="73" height="7.6"/><text class="t7" x="1.5" y="5.6">553 - <tspan class="b">BAILLY</tspan> Elisabeth</text></g>
<g id="p554" transform="translate(367,517.2)"><rect class="c7" width="73" height="7.6"/><text class="t7" x="1.5" y="5.6">554 - <tspan class="b">BIET</tspan> Pierre</text></g>
<g id="p555" transform="translate(367,529.45)"><rect class="c7" width="73" height="7.6"/><text class="t7" x="1.5" y="5.6">555 - <tspan class="b">CHARLOT</tspan> Marie</text></g>
<g id="p556" transform="translate(367,541.7)"><rect class="c7" width="73" height="7.6"/><text class="t7" x="1.5" y="5.6">556 - <tspan class="b">DAVID</tspan> François</text></g>
<g id="p557" transform="translate(367,553.95)"><rect class="c7" width="73" height="7.6"/><text class="t7" x="1.5" y="5.6">557 - <tspan class="b">POMMIER</tspan> Françoise</text></g>
<g id="p558" transform="translate(367,566.2)"><rect class="c7" width="73" height="7.6"/><text class="t7" x="1.5" y="5.6">558 - <tspan class="b">BERGERY</tspan> Julien</text></g>
<g id="p559" transform="translate(367,578.45)"><rect class="c7" width="73" height="7.6"/><text class="t7" x="1.5" y="5.6">559 - <tspan class="b">BAILLOU</tspan> Catherine</text></g>
<g id="p560" transform="translate(367,590.7)"><rect class="c7" width="73" height="7.6"/><text class="t7" x="1.5" y="5.6">560 - <tspan class="b">ROULET</tspan> François</text></g>
<g id="p561" transform="translate(367,602.95)"><rect class="c7" width="73" height="7.6"/><text class="t7" x="1.5" y="5.6">561 - <tspan class="b">GIGAULT</tspan> Adrienne</text></g>
<g id="p562" transform="translate(367,615.2)"><rect class="c7" width="73" height="7.6"/><text class="t7" x="1.5" y="5.6">562 - <tspan class="b">QUILLET</tspan> Christophe</text></g>
<g id="p563" transform="translate(367,627.45)"><rect class="c7" width="73" height="7.6"/><text class="t7" x="1.5" y="5.6">563 - <tspan class="b">BARILLET</tspan> Marie</text></g>
<g id="p564" transform="translate(367,639.7)"><rect class="c7" width="73" height="7.6"/><text class="t7" x="1.5" y="5.6">564 - <tspan class="b">JALLET</tspan> Jean</text></g>
<g id="p565" transform="translate(367,651.95)"><rect class="c7" width="73" height="7.6"/><text class="t7" x="1.5" y="5.6">565 - <tspan class="b">SIMON</tspan> Catherine</text></g>
<g id="p566" transform="translate(367,664.2)"><rect class="c7" width="73" height="7.6"/><text class="t7" x="1.5" y="5.6">566 - <tspan class="b">JOUSSET</tspan> Pierre</text></g>
<g id="p567" transform="translate(367,676.45)"><rect class="c7" width="73" height="7.6"/><text class="t7" x="1.5" y="5.6">567 - <tspan class="b">DESPAGNE</tspan> Anne</text></g>
<g id="p568" transform="translate(367,688.7)"><rect class="c7" width="73" height="7.6"/></g>
<g id="p569" transform="translate(367,700.95)"><rect class="c7" width="73" height="7.6"/></g>
<g id="p570" transform="translate(367,713.2)"><rect class="c7" width="73" height="7.6"/></g>
<g id="p571" transform="translate(367,725.45)"><rect class="c7" width="73" height="7.6"/></g>
<g id="p572" transform="translate(367,737.7)"><rect class="c7" width="73" height="7.6"/></g>
<g id="p573" transform="translate(367,749.95)"><rect class="c7" width="73" height="7.6"/></g>
<g id="p574" transform="translate(367,762.2)"><rect class="c7" width="73" height="7.6"/></g>
<g id="p575" transform="translate(367,774.45)"><rect class="c7" width="73" height="7.6"/></g>

<g id="gen8">
<g id="p1024"><text class="t8" x="448" y="4.3">1024MAUPOUET Henry</text></g>
<g id="p1025"><text class="t8" x="448" y="9.7">1025MARCHOU Michelle</text></g>
<g id="p1026"><text class="t8" x="448" y="16.5">1026POUSSECHAT Etienne</text></g>
<g id="p1027"><text class="t8" x="448" y="21.9">1027LANGE Marie</text></g>
<g id="p1028"><text class="t8" x="448" y="28.7">1028DEROCHE Silvain</text></g>
<g id="p1029"><text class="t8" x="448" y="34.1">1029MAUDUIT Jeanne</text></g>
<g id="p1030"><text class="t8" x="448" y="40.9">1030NAU Claude</text></g>
<g id="p1031"><text class="t8" x="448" y="46.3">1031FOUCHER Jeanne</text></g>
<g id="p1032"><text class="t8" x="448" y="53.1">1032LANDRE Martin</text></g>
<g id="p1033"><text class="t8" x="448" y="58.5">1033PERIT Antoinette</text></g>
<g id="p1034"><text class="t8" x="448" y="65.3">1034CHEVEREAU Clément</text></g>
<g id="p1035"><text class="t8" x="448" y="70.7">1035MILLET Renée</text></g>
<g id="p1036"><text class="t8" x="448" y="77.5">1036LOUET Jean</text></g>
<g id="p1037"><text class="t8" x="448" y="82.9">1037DAUBRON Antoinette</text></g>
<g id="p1038"><text class="t8" x="448" y="89.7">1038FOREST François</text></g>
<g id="p1039"><text class="t8" x="448" y="95.1">1039RAGOTIN Marie</text></g>
<g id="p1044"><text class="t8" x="448" y="126.4">1044LHERMITTE Antoine</text></g>
<g id="p1045"><text class="t8" x="448" y="131.8">1045MEDUAY Mathurine</text></g>
<g id="p1046"><text class="t8" x="448" y="138.6">1046HUGER Louis</text></g>
<g id="p1047"><text class="t8" x="448" y="144">1047CHEVREAU Martine</text></g>
<g id="p1048"><text class="t8" x="448" y="150.8">1048AUGER Vincent</text></g>
<g id="p1049"><text class="t8" x="448" y="156.2">1049PRIEUR Jeanne</text></g>
<g id="p1050"><text class="t8" x="448" y="163">1050PAULMIER Jean</text></g>
<g id="p1051"><text class="t8" x="448" y="168.4">1051LEPINE Françoise</text></g>
<g id="p1052"><text class="t8" x="448" y="175.2">1052BERRUE Jean</text></g>
<g id="p1053"><text class="t8" x="448" y="180.6">1053COQUIN Marie</text></g>
<g id="p1054"><text class="t8" x="448" y="187.4">1054DEROCHE ; DROCHE Jean</text></g>
<g id="p1055"><text class="t8" x="448" y="192.8">1055FOUCAULT Luquette</text></g>
<g id="p1060"><text class="t8" x="448" y="224">1060PRIEUR Simon</text></g>
<g id="p1061"><text class="t8" x="448" y="229.4">1061PAUL Catherine</text></g>
<g id="p1062"><text class="t8" x="448" y="236.2">1062DUBOIS François</text></g>
<g id="p1063"><text class="t8" x="448" y="241.6">1063DOUCEAU Anne Perine</text></g>
<g id="p1064"><text class="t8" x="448" y="248.4">1064CUISINIER Mathurin</text></g>
<g id="p1065"><text class="t8" x="448" y="253.8">1065CIQUET Jeanne</text></g>
<g id="p1066"><text class="t8" x="448" y="260.6">1066FAUCHERE Pierre</text></g>
<g id="p1067"><text class="t8" x="448" y="266">1067RATON Françoise</text></g>
<g id="p1072"><text class="t8" x="448" y="297.2">1072DAUBRON Gatien</text></g>
<g id="p1073"><text class="t8" x="448" y="302.6">1073HERAULT Gillette</text></g>
<g id="p1074"><text class="t8" x="448" y="309.4">1074LOUET Jean</text></g>
<g id="p1075"><text class="t8" x="448" y="314.8">1075DAUBRON Antoinette</text></g>
<g id="p1076"><text class="t8" x="448" y="321.6">1076DOUME Pierre</text></g>
<g id="p1077"><text class="t8" x="448" y="327">1077AUDEAU Marie</text></g>
<g id="p1078"><text class="t8" x="448" y="333.8">1078ROBERT Gilles</text></g>
<g id="p1079"><text class="t8" x="448" y="339.2">1079MEUNIER Jeanne</text></g>
<g id="p1080"><text class="t8" x="448" y="346">1080BAUDOUIN Pierre</text></g>
<g id="p1081"><text class="t8" x="448" y="351.4">1081MENOUST Françoise</text></g>
<g id="p1082"><text class="t8" x="448" y="358.2">1082MOUSY ; MOURAY Antoine</text></g>
<g id="p1083"><text class="t8" x="448" y="363.6">1083ROBIN Marie</text></g>
<g id="p1086"><text class="t8" x="448" y="382.7">1086PERROT Gabriel</text></g>
<g id="p1087"><text class="t8" x="448" y="388.1">1087JOUANNEAU Françoise</text></g>
<g id="p1100"><text class="t8" x="448" y="468.1">1100BRAULT Pierre</text></g>
<g id="p1101"><text class="t8" x="448" y="473.5">1101LYNDAS Sylvine</text></g>
<g id="p1102"><text class="t8" x="448" y="480.3">1102CORSET Georges</text></g>
<g id="p1103"><text class="t8" x="448" y="485.7">1103BERGER Madeleine</text></g>
<g id="p1112"><text class="t8" x="448" y="541.3">1112DAVID René</text></g>
<g id="p1113"><text class="t8" x="448" y="546.7">1113GARNIER Marie</text></g>
<g id="p1114"><text class="t8" x="448" y="553.5">1114PAULMIER Etienne</text></g>
<g id="p1115"><text class="t8" x="448" y="558.9">1115BULLIER Françoise</text></g>
<g id="p1116"><text class="t8" x="448" y="565.7">1116BERGERY Julien</text></g>
<g id="p1117"><text class="t8" x="448" y="571.1">1117RABIER Marie</text></g>
<g id="p1120"><text class="t8" x="448" y="590.1">1120ROULET Charles</text></g>
<g id="p1121"><text class="t8" x="448" y="595.5">1121DURAND Renée</text></g>
<g id="p1124"><text class="t8" x="448" y="614.6">1124QUILLET Louis</text></g>
<g id="p1125"><text class="t8" x="448" y="620">1125CHAPPIN Marie</text></g>
<g id="p1126"><text class="t8" x="448" y="626.8">1126BARILLET Etienne</text></g>
<g id="p1127"><text class="t8" x="448" y="632.2">1127AUGER Jeanne</text></g>
<g id="p1130"><text class="t8" x="448" y="651.2">1130SIMON Gabriel</text></g>
<g id="p1131"><text class="t8" x="448" y="656.6">1131SAUBILLER Marie</text></g>
<g id="p1134"><text class="t8" x="448" y="675.6">1134DESPAGNE Mélaine</text></g>
<g id="p1135"><text class="t8" x="448" y="681">1135MUSEAU Anne</text></g>
</g>
</svg>
